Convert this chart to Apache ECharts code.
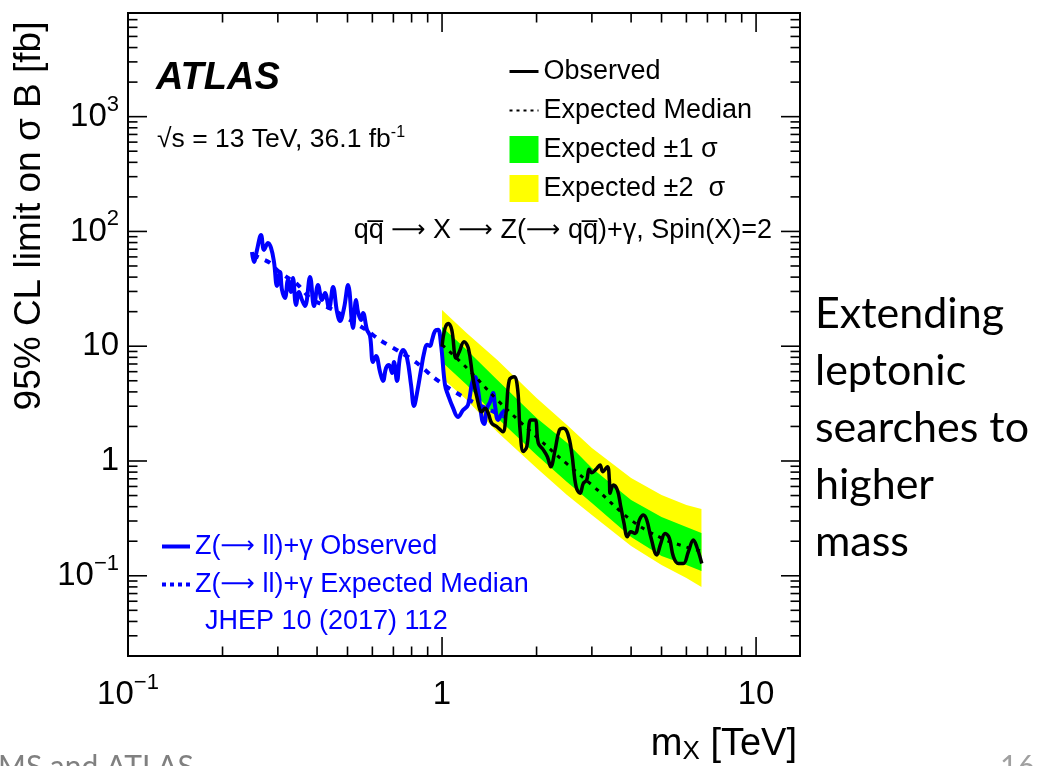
<!DOCTYPE html>
<html>
<head>
<meta charset="utf-8">
<script src="https://cdn.jsdelivr.net/npm/echarts@6/dist/echarts.min.js"></script>
<style>
  html, body { margin: 0; padding: 0; background: #fff; }
  #chart { width: 1042px; height: 766px; }
</style>
</head>
<body>
<div id="chart"></div>
<script>
// ---- Z(->qq)+gamma, spin-2 search: observed 95% CL limit [fb] vs m_X [TeV]
const obsMass = [1.00,1.022,1.047,1.074,1.108,1.135,1.175,1.213,1.252,1.290,1.338,1.371,1.404,1.440,1.494,1.561,1.599,1.638,1.696,1.742,1.772,1.815,1.861,1.917,1.978,2.026,2.102,2.165,2.219,2.291,2.364,2.434,2.513,2.589,2.672,2.751,2.818,2.889,2.939,2.998,3.093,3.185,3.249,3.361,3.411,3.428,3.512,3.617,3.708,3.798,3.892,3.990,4.118,4.250,4.377,4.487,4.620,4.829,4.973,5.132,5.296,5.454,5.657,5.869,6.087,6.314,6.474,6.717];
const obsLimit = [9.91,14.3,15.8,13.9,7.85,8.96,10.96,9.60,5.43,3.63,2.69,2.88,2.60,2.13,1.99,1.80,2.60,5.08,5.43,4.16,1.86,1.21,1.33,2.28,2.28,1.43,1.25,1.09,0.892,1.25,1.86,1.93,1.74,1.17,0.597,0.523,0.639,0.683,0.847,0.791,0.847,0.923,0.807,0.892,0.683,0.523,0.618,0.559,0.400,0.286,0.219,0.242,0.234,0.306,0.338,0.306,0.219,0.152,0.192,0.234,0.212,0.147,0.128,0.128,0.162,0.205,0.179,0.128];

// Expected median and +-1 / +-2 sigma bands
const expMass   = [1.0, 1.2, 1.5, 2.0, 2.5, 3.0, 4.0, 5.0, 6.0, 6.7];
const expMedian = [10.3, 6.46, 3.40, 1.62, 0.942, 0.618, 0.306, 0.213, 0.178, 0.164];
const band1Lo   = [7.29, 4.59, 2.37, 1.13, 0.656, 0.431, 0.218, 0.149, 0.124, 0.110];
const band1Hi   = [14.7, 9.28, 5.08, 2.37, 1.44, 0.869, 0.457, 0.325, 0.266, 0.236];
const band2Lo   = [5.29, 3.40, 1.79, 0.869, 0.505, 0.338, 0.182, 0.124, 0.0955, 0.0798];
const band2Hi   = [20.7, 13.0, 7.59, 3.54, 2.06, 1.30, 0.711, 0.505, 0.414, 0.382];

// Z(->ll)+gamma result (JHEP 10 (2017) 112)
const llObsMass = [0.2482,0.2519,0.2575,0.2652,0.2711,0.2792,0.2854,0.2917,0.2982,0.3048,0.3093,0.3162,0.3232,0.3304,0.3353,0.3428,0.3504,0.3582,0.3662,0.3799,0.3912,0.4028,0.4148,0.4240,0.4367,0.4497,0.4630,0.4733,0.4875,0.5021,0.5206,0.5322,0.5401,0.5521,0.5602,0.5769,0.5897,0.6029,0.6162,0.6347,0.6489,0.6633,0.6780,0.6931,0.7033,0.7189,0.7349,0.7513,0.7737,0.7968,0.8143,0.8323,0.8571,0.8765,0.8960,0.9157,0.9293,0.9499,0.9711,0.9927,1.022,1.045,1.084,1.124,1.167,1.210,1.246,1.274,1.302,1.341,1.361,1.391,1.422,1.454,1.475,1.508,1.553,1.587];
const llObsLimit = [66.3,54.2,69.0,93.3,69.0,79.4,71.8,54.2,33.5,44.4,30.9,26.3,37.8,29.7,39.3,22.9,29.7,25.3,22.4,40.1,22.4,34.2,25.3,29.1,21.5,32.8,19.9,16.6,21.5,34.2,14.4,25.3,19.9,16.9,19.5,13.9,12.3,7.29,8.22,5.97,4.98,6.46,6.87,5.85,7.29,4.98,8.06,9.28,7.90,4.59,3.02,3.91,6.21,8.73,10.3,10.05,11.3,13.6,13.9,10.3,4.59,3.76,2.90,2.42,2.78,3.08,4.78,5.40,4.16,2.28,2.10,2.90,3.27,3.91,3.02,2.28,2.62,2.78];
const llExpMass  = [0.2500,0.2632,0.2834,0.2982,0.3232,0.3478,0.3799,0.4178,0.4630,0.5093,0.5727,0.6347,0.7349,0.8323,0.9362,1.037,1.141,1.255,1.422,1.587];
const llExpLimit = [62.4,58.7,53.2,46.2,39.3,34.2,26.3,22.9,19.9,16.9,13.9,11.3,8.91,7.14,5.40,4.42,3.76,3.27,2.78,2.42];

// Axis ranges and tick values (log scales)
const X_MIN = 0.1, X_MAX = 13.8;
const Y_MIN = 0.02, Y_MAX = 8000;
const xMajorTicks = [0.1, 1, 10];
const xMinorTicks = [0.2,0.3,0.4,0.5,0.6,0.7,0.8,0.9, 2,3,4,5,6,7,8,9];
const yMajorTicks = [0.1, 1, 10, 100, 1000];
const yMinorTicks = [0.03,0.04,0.05,0.06,0.07,0.08,0.09, 0.2,0.3,0.4,0.5,0.6,0.7,0.8,0.9,
                     2,3,4,5,6,7,8,9, 20,30,40,50,60,70,80,90, 200,300,400,500,600,700,800,900,
                     2000,3000,4000,5000,6000,7000];

const FONT = '"Liberation Sans", Arial, Helvetica, sans-serif';
const ARROW_FONT = '"DejaVu Sans", sans-serif';
const zip = (xs, ys) => xs.map((x, i) => [x, ys[i]]);
// draw each arrow with a long thin glyph in its own rich-text style
const arrowRich = s => s.replace(/\u2192/g, '{a|\u27f6}');

function powLabel(v) {
  const e = Math.log10(v);
  const r = Math.round(e);
  if (Math.abs(e - r) > 1e-6) return '';
  if (r === 0) return '{b|1}';
  if (r === 1) return '{b|10}';
  return '{b|10}{s|' + (r < 0 ? '\u2212' + (-r) : r) + '}';
}
const labelRich = {
  b: { fontSize: 33, lineHeight: 46, fontFamily: FONT, color: '#000' },
  s: { fontSize: 22, lineHeight: 16, verticalAlign: 'top', fontFamily: FONT, color: '#000' }
};

function bandSeries(name, lo, hi, color) {
  return {
    type: 'custom', name: name, silent: true,
    itemStyle: { color: color },
    data: [[expMass[0], hi[0]]],
    renderItem: function (params, api) {
      const pts = [];
      for (let i = 0; i < expMass.length; i++) pts.push(api.coord([expMass[i], hi[i]]));
      for (let i = expMass.length - 1; i >= 0; i--) pts.push(api.coord([expMass[i], lo[i]]));
      return { type: 'polygon', shape: { points: pts }, style: { fill: color, stroke: null } };
    }
  };
}

// inward ticks on all four sides of the frame
const tickSeries = {
  type: 'custom', silent: true, z: 5,
  data: [[X_MIN, Y_MIN]],
  renderItem: function (params, api) {
    const children = [];
    const bl = api.coord([X_MIN, Y_MIN]);
    const tr = api.coord([X_MAX, Y_MAX]);
    const seg = (a, b, c, d) => children.push({
      type: 'line', shape: { x1: a, y1: b, x2: c, y2: d },
      style: { stroke: '#000', lineWidth: 1.6 }
    });
    const xt = (v, len) => { const x = api.coord([v, Y_MIN])[0]; seg(x, bl[1], x, bl[1] - len); seg(x, tr[1], x, tr[1] + len); };
    const yt = (v, len) => { const y = api.coord([X_MIN, v])[1]; seg(bl[0], y, bl[0] + len, y); seg(tr[0], y, tr[0] - len, y); };
    xMajorTicks.forEach(v => xt(v, 19));
    xMinorTicks.forEach(v => xt(v, 9.5));
    yMajorTicks.forEach(v => yt(v, 19));
    yMinorTicks.forEach(v => yt(v, 9.5));
    return { type: 'group', children: children };
  }
};

const hiddenSymbol = { opacity: 0 };

const chart = echarts.init(document.getElementById('chart'), null, { renderer: 'canvas' });
chart.setOption({
  animation: false,
  backgroundColor: '#fff',
  grid: {
    left: 128, right: 242, top: 13, bottom: 110,
    containLabel: false, outerBoundsMode: 'none',
    show: true, borderColor: '#000', borderWidth: 2, backgroundColor: 'transparent'
  },
  xAxis: {
    type: 'log', logBase: 10, min: X_MIN, max: X_MAX,
    axisLine: { show: false }, axisTick: { show: false }, splitLine: { show: false },
    axisLabel: { formatter: powLabel, rich: labelRich, margin: 16, showMinLabel: true, showMaxLabel: true, hideOverlap: false }
  },
  yAxis: {
    type: 'log', logBase: 10, min: Y_MIN, max: Y_MAX,
    axisLine: { show: false }, axisTick: { show: false }, splitLine: { show: false },
    axisLabel: { formatter: powLabel, rich: labelRich, margin: 9, showMinLabel: true, showMaxLabel: true, hideOverlap: false }
  },
  legend: [
    {
      orient: 'vertical', left: 508, top: 58, itemWidth: 29, itemHeight: 27, itemGap: 12,
      selectedMode: false, padding: 0,
      textStyle: { fontFamily: FONT, fontSize: 27, color: '#000' },
      data: [
        { name: 'Observed', lineStyle: { width: 3 }, itemStyle: hiddenSymbol },
        { name: 'Expected Median', lineStyle: { width: 2, type: [3, 4] }, itemStyle: hiddenSymbol },
        { name: 'Expected \u00b11 \u03c3', icon: 'rect' },
        { name: 'Expected \u00b12  \u03c3', icon: 'rect' }
      ]
    },
    {
      orient: 'vertical', left: 160, top: 533, itemWidth: 28, itemHeight: 27, itemGap: 11,
      selectedMode: false, padding: 0,
      formatter: arrowRich,
      textStyle: {
        fontFamily: FONT, fontSize: 27, lineHeight: 27, color: '#0000ff',
        rich: { a: { fontFamily: ARROW_FONT, fontSize: 24, lineHeight: 27, color: '#0000ff' } }
      },
      data: [
        { name: 'Z(\u2192 ll)+\u03b3 Observed', lineStyle: { width: 4 }, itemStyle: hiddenSymbol },
        { name: 'Z(\u2192 ll)+\u03b3 Expected Median', lineStyle: { width: 4, type: [4, 4] }, itemStyle: hiddenSymbol }
      ]
    }
  ],
  series: [
    bandSeries('Expected \u00b12  \u03c3', band2Lo, band2Hi, '#ffff00'),
    bandSeries('Expected \u00b11 \u03c3', band1Lo, band1Hi, '#00ff00'),
    tickSeries,
    {
      type: 'line', name: 'Z(\u2192 ll)+\u03b3 Expected Median', data: zip(llExpMass, llExpLimit),
      symbol: 'none', smooth: 0.3, silent: true,
      itemStyle: { color: '#0000ff' },
      lineStyle: { color: '#0000ff', width: 4, type: [6, 7] }
    },
    {
      type: 'line', name: 'Z(\u2192 ll)+\u03b3 Observed', data: zip(llObsMass, llObsLimit),
      symbol: 'none', smooth: 0.4, silent: true,
      itemStyle: { color: '#0000ff' },
      lineStyle: { color: '#0000ff', width: 4 }
    },
    {
      type: 'line', name: 'Expected Median', data: zip(expMass, expMedian),
      symbol: 'none', smooth: 0.4, silent: true,
      itemStyle: { color: '#000' },
      lineStyle: { color: '#000', width: 3, type: [4, 6] }
    },
    {
      type: 'line', name: 'Observed', data: zip(obsMass, obsLimit),
      symbol: 'none', smooth: 0.4, silent: true,
      itemStyle: { color: '#000' },
      lineStyle: { color: '#000', width: 3.5 }
    }
  ],
  graphic: [
    { type: 'text', x: 156, y: 79, style: { text: 'ATLAS', fontFamily: FONT, fontSize: 38, fontWeight: 'bold', fontStyle: 'italic', fill: '#000', verticalAlign: 'middle' } },
    { type: 'text', x: 157, y: 140, style: {
        text: '\u221as = 13 TeV, 36.1 fb{s|-1}', fontFamily: FONT, fontSize: 26.5, lineHeight: 30, fill: '#000', verticalAlign: 'middle',
        rich: { s: { fontSize: 16, lineHeight: 14, verticalAlign: 'top', fontFamily: FONT, color: '#000' } } } },
    { type: 'text', x: 772, y: 231, style: {
        text: arrowRich('qq\u0305 \u2192 X \u2192 Z(\u2192 qq\u0305)+\u03b3, Spin(X)=2'), fontFamily: FONT, fontSize: 27, lineHeight: 30, fill: '#000', align: 'right', verticalAlign: 'middle',
        rich: { a: { fontFamily: ARROW_FONT, fontSize: 24, lineHeight: 30, color: '#000' } } } },
    { type: 'text', x: 205, y: 622, style: { text: 'JHEP 10 (2017) 112', fontFamily: FONT, fontSize: 27, fill: '#0000ff', verticalAlign: 'middle' } },
    { type: 'text', x: 30, y: 216, rotation: Math.PI / 2, style: {
        text: '95% CL limit on \u03c3 B [fb]', fontFamily: FONT, fontSize: 37, fill: '#000', align: 'center', verticalAlign: 'middle' } },
    { type: 'text', x: 797, y: 745, style: {
        text: 'm{sub|X} [TeV]', fontFamily: FONT, fontSize: 38, lineHeight: 40, fill: '#000', align: 'right', verticalAlign: 'middle',
        rich: { sub: { fontSize: 26, lineHeight: 24, verticalAlign: 'bottom', fontFamily: FONT, color: '#000' } } } },
    { type: 'text', x: 815, y: 286, style: {
        text: 'Extending\nleptonic\nsearches to\nhigher\nmass', fontFamily: 'Lato, "Open Sans", sans-serif', fontSize: 43, lineHeight: 57, fill: '#000', verticalAlign: 'top' } },
    { type: 'text', x: -22, y: 752, style: { text: 'CMS and ATLAS', fontFamily: 'Lato, sans-serif', fontSize: 30, fill: '#808080', verticalAlign: 'top' } },
    { type: 'text', x: 1000, y: 752, style: { text: '16', fontFamily: 'Lato, sans-serif', fontSize: 30, fill: '#a0a0a0', verticalAlign: 'top' } }
  ]
});
</script>
</body>
</html>
